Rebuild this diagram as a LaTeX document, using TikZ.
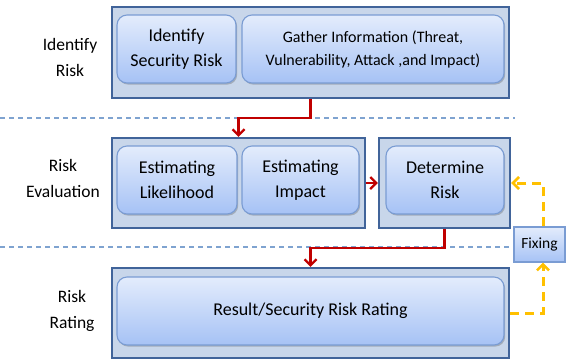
\documentclass[tikz,border=0pt]{standalone}
\usepackage{fontspec}
\setmainfont{Carlito}
\usetikzlibrary{arrows.meta,shadows}

\definecolor{frameblue}{HTML}{41649A}
\definecolor{framefill}{HTML}{C8D6EA}
\definecolor{cardedge}{HTML}{7A9CD3}
\definecolor{cardtop}{HTML}{E3ECFC}
\definecolor{cardbot}{HTML}{A6C2F5}
\definecolor{flowred}{HTML}{C00000}
\definecolor{loopamber}{HTML}{FFC000}
\definecolor{sepblue}{HTML}{7FA3D0}

\tikzset{
  frame/.style={draw=frameblue, line width=2.4pt, fill=framefill, inner sep=0pt},
  card/.style={draw=cardedge, line width=1.1pt, rounded corners=10pt,
    top color=cardtop, bottom color=cardbot, align=center, inner sep=0pt,
    font=\fontsize{18}{25}\selectfont,
    drop shadow={shadow xshift=1.2pt, shadow yshift=-1.6pt, opacity=0.3, fill=black!70}},
  fixbox/.style={draw=cardedge, line width=1.1pt, top color=cardtop, bottom color=cardbot,
    inner sep=0pt, font=\fontsize{15.5}{18}\selectfont},
  phase/.style={align=center, font=\fontsize{17.5}{26}\selectfont},
  flow/.style={draw=flowred, line width=2.2pt, -{Straight Barb[length=6pt,width=12pt,line width=2.2pt]}},
  loop/.style={draw=loopamber, line width=3pt, dash pattern=on 9pt off 6pt,
    -{Straight Barb[length=6pt,width=12pt,line width=2.6pt]}},
  sep/.style={draw=sepblue, line width=1.3pt, dash pattern=on 5pt off 4pt}
}

\begin{document}
\begin{tikzpicture}[x=1pt,y=-1pt]
  \useasboundingbox (0,0) rectangle (568,360);

  % phase separators
  \draw[sep] (0,118) -- (515,118);
  \draw[sep] (0,247) -- (514,247);

  % phase labels
  \node[phase] (p1) at (70,57) {Identify\\Risk};
  \node[phase] (p2) at (63,178) {Risk\\Evaluation};
  \node[phase] (p3) at (72,311) {Risk\\Rating};

  % outer frames
  \node[frame, minimum width=397pt, minimum height=91pt] (o1) at (310.5,52.5) {};
  \node[frame, minimum width=253pt, minimum height=90pt] (o2) at (238.5,183) {};
  \node[frame, minimum width=131pt, minimum height=90pt] (o3) at (444.5,183) {};
  \node[frame, minimum width=397pt, minimum height=90pt] (o4) at (310.5,313) {};

  % step cards
  \node[card, minimum width=119pt, minimum height=68pt] (a1) at (176.5,49) {Identify\\Security Risk};
  \node[card, minimum width=262pt, minimum height=68pt, font=\fontsize{16}{23}\selectfont] (a2) at (373,49)
    {Gather Information (Threat,\\Vulnerability, Attack ,and Impact)};
  \node[card, minimum width=120pt, minimum height=68pt] (b1) at (177,180) {Estimating\\Likelihood};
  \node[card, minimum width=117pt, minimum height=68pt] (b2) at (300.5,180) {Estimating\\Impact};
  \node[card, minimum width=118pt, minimum height=68pt] (b3) at (445,180) {Determine\\Risk};
  \node[card, minimum width=387pt, minimum height=68pt] (c1) at (310.5,311) {Result/Security\ Risk Rating};

  % feedback box
  \node[fixbox, minimum width=51pt, minimum height=35pt] (fix) at (539.5,244.5) {Fixing};

  % main flow
  \draw[flow] (o1.south) -- (o1.south |- 0,118) -| (o2.north);
  \draw[flow] (o2.east) -- (o3.west);
  \draw[flow] (o3.south) -- (o3.south |- 0,248) -| (o4.north);

  % feedback loop
  \coordinate (fx) at (543,0);
  \draw[loop] (o4.east) -| (fx |- fix.south);
  \draw[loop] (fx |- fix.north) |- (o3.east);
\end{tikzpicture}
\end{document}
